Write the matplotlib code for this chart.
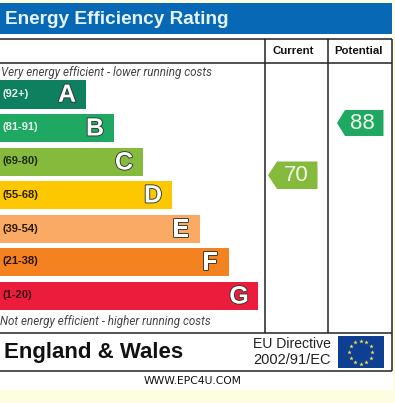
import numpy as np
import matplotlib
matplotlib.use("Agg")
import matplotlib.pyplot as plt
from matplotlib.patches import Rectangle, Polygon
import matplotlib.patheffects as pe

W, H = 395, 403
CREAM = "#fefde2"

bands = ["A", "B", "C", "D", "E", "F", "G"]
ranges = ["(92+)", "(81-91)", "(69-80)", "(55-68)", "(39-54)", "(21-38)", "(1-20)"]
bar_ends = [86, 114, 143, 172, 200, 229, 258]
bar_tops = [80, 114, 148, 181, 215, 248, 282]
bar_bottoms = [108.5, 142, 176, 209, 243, 276, 310]
bar_colors = ["#0e8060", "#1fa862", "#85ba3d", "#fdc800", "#fbaa65", "#f58220", "#ec1c3c"]
range_colors = ["#e8f4ee", "#e8f4ee", "#1c2a10", "#2a2000", "#2a1a08", "#2a1208", "#3a0a14"]

current = 70
potential = 88
arrow_color_current = "#85ba3d"
arrow_color_potential = "#1fa862"

fig = plt.figure(figsize=(W / 100, H / 100), dpi=100, facecolor=CREAM)
ax = fig.add_axes([0, 0, 1, 1])
ax.set_xlim(0, W)
ax.set_ylim(H, 0)
ax.axis("off")
SANS = "Liberation Sans"

ax.add_patch(Rectangle((0, 3), 393, 387, fc="white", ec="none", zorder=0))
ax.add_patch(Rectangle((0, 3), 392, 31, fc="#0769b5", ec="none", zorder=1))
ax.text(5, 19, "Energy Efficiency Rating", color="#e6f4fb", fontsize=13.7, fontweight="bold",
        family=SANS, va="center", ha="left", zorder=2)

for name, rng, end, top, bot, col, rc in zip(bands, ranges, bar_ends, bar_tops, bar_bottoms, bar_colors, range_colors):
    ax.add_patch(Rectangle((0, top), end, bot - top, fc=col, ec="none", zorder=1))
    ax.text(2.5, (top + bot) / 2 - 0.5, rng, color=rc, fontsize=8, fontweight="bold", family=SANS,
            va="center", ha="left", zorder=2)
    ax.text(end - 19, (top + bot) / 2 + 0.5, name, color="white", fontsize=18, fontweight="bold", family=SANS,
            va="center", ha="center", zorder=3,
            path_effects=[pe.withStroke(linewidth=1.3, foreground="#2b3a30")])

ax.text(1, 72.5, "Very energy efficient - lower running costs", color="#444444", fontsize=8.4,
        style="italic", family="Roboto", va="center", ha="left", zorder=2)
ax.text(0.5, 322, "Not energy efficient - higher running costs", color="#444444", fontsize=8.4,
        style="italic", family="Roboto", va="center", ha="left", zorder=2)

LC = "#222222"
for y in (39, 63, 333, 371):
    ax.plot([0, 392], [y, y], color=LC, lw=1.1, zorder=4, solid_capstyle="butt")
for x, y0, y1 in ((265, 39, 333), (327.5, 39, 333), (392, 39, 371)):
    ax.plot([x, x], [y0, y1], color=LC, lw=1.1, zorder=4, solid_capstyle="butt")

ax.text(293, 51, "Current", color="#111111", fontsize=8.2, fontweight="bold", family=SANS,
        va="center", ha="center", zorder=5)
ax.text(358.5, 51, "Potential", color="#111111", fontsize=8.2, fontweight="bold", family=SANS,
        va="center", ha="center", zorder=5)

def arrow(x0, x1, xs, y0, y1, col, val, tx):
    ax.add_patch(Polygon([(x0, (y0 + y1) / 2), (xs, y0), (x1, y0), (x1, y1), (xs, y1)],
                         closed=True, fc=col, ec="none", zorder=3))
    ax.text(tx, (y0 + y1) / 2 + 0.3, str(val), color="#f2f8ea", fontsize=16, family=SANS,
            va="center", ha="center", zorder=4)

arrow(268, 317.5, 277, 161.5, 189, arrow_color_current, current, 296)
arrow(337, 383.5, 345, 110, 136, arrow_color_potential, potential, 362.5)

ax.text(4, 352.5, "England & Wales", color="#111111", fontsize=16, fontweight="bold", family=SANS,
        va="center", ha="left", zorder=5)
ax.text(330.5, 344, "EU Directive", color="#222222", fontsize=10.1, family=SANS, va="center", ha="right", zorder=5)
ax.text(330.5, 360, "2002/91/EC", color="#222222", fontsize=10.5, family=SANS, va="center", ha="right", zorder=5)

ax.add_patch(Rectangle((338, 336), 45.5, 32, fc="#0e3f92", ec="none", zorder=5))
ang = np.deg2rad(np.arange(0, 360, 30))
ax.scatter(360.7 + 11.5 * np.sin(ang), 352 - 11.5 * np.cos(ang), marker="*", s=11, color="#f4e04a",
           linewidths=0, zorder=6)

ax.text(192.5, 380.5, "WWW.EPC4U.COM", color="#111111", fontsize=7.75, family="DejaVu Sans",
        va="center", ha="center", zorder=5)

fig.savefig("out.png", dpi=100, facecolor=CREAM)
